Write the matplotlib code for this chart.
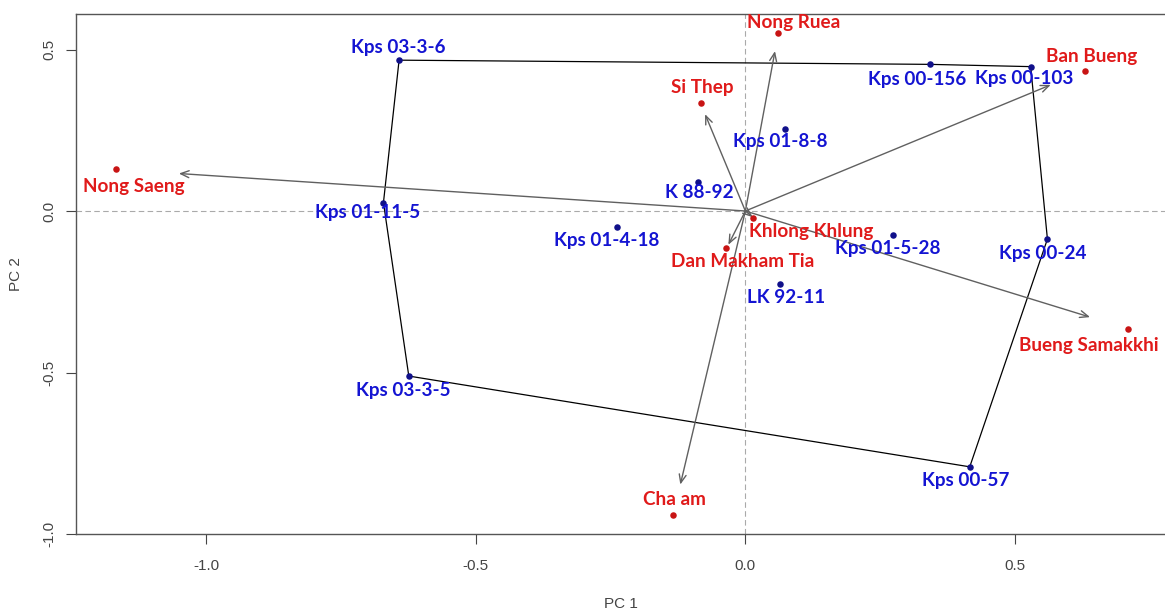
import numpy as np
import matplotlib.pyplot as plt

# genotype scores (PC1, PC2)
gen_names = ['Kps 03-3-6', 'Kps 00-156', 'Kps 00-103', 'Kps 01-8-8', 'K 88-92',
             'Kps 01-11-5', 'Kps 01-4-18', 'Kps 01-5-28', 'Kps 00-24', 'LK 92-11',
             'Kps 03-3-5', 'Kps 00-57']
gen_pc1 = [-0.642, 0.342, 0.529, 0.073, -0.088, -0.671, -0.238, 0.274, 0.560, 0.064, -0.624, 0.416]
gen_pc2 = [0.467, 0.454, 0.447, 0.254, 0.091, 0.026, -0.049, -0.074, -0.087, -0.227, -0.511, -0.792]

# environment scores (PC1, PC2)
env_names = ['Nong Saeng', 'Nong Ruea', 'Si Thep', 'Ban Bueng', 'Khlong Khlung',
             'Dan Makham Tia', 'Bueng Samakkhi', 'Cha am']
env_pc1 = [-1.167, 0.061, -0.083, 0.629, 0.015, -0.035, 0.710, -0.134]
env_pc2 = [0.129, 0.550, 0.333, 0.434, -0.021, -0.116, -0.365, -0.941]

# polygon vertices (order around the hull)
hull = ['Kps 03-3-6', 'Kps 00-156', 'Kps 00-103', 'Kps 00-24', 'Kps 00-57',
        'Kps 03-3-5', 'Kps 01-11-5']

arrow_scale = 0.9

# label offsets in pixels (dx, dy)
gen_off = [(-1, 13), (-13, -15), (-7, -12), (-4, -13), (1, -11), (-16, -10),
           (-10, -14), (-5, -14), (-5, -14), (6, -13), (-5, -14), (-4, -14)]
env_off = [(18, -17), (15, 11), (2, 16), (7, 14), (58, -14), (16, -13), (-40, -17), (1, 15)]

blue_txt = '#1414d2'
red_txt = '#e01a1a'
dpi = 100

fig = plt.figure(figsize=(11.65, 6.16), dpi=dpi)
ax = fig.add_axes([76 / 1165, 82 / 616, 1 - 76 / 1165, (616 - 14.3 - 82) / 616])
ax.set_xlim(-1.241, 0.778)
ax.set_ylim(-1.0, 0.609)

ax.axhline(0, color='#aaaaaa', lw=0.8, ls=(0, (5, 3)), zorder=1)
ax.axvline(0, color='#aaaaaa', lw=0.8, ls=(0, (5, 3)), zorder=1)

# polygon
idx = [gen_names.index(n) for n in hull] + [gen_names.index(hull[0])]
ax.plot([gen_pc1[i] for i in idx], [gen_pc2[i] for i in idx], color='black', lw=0.9, zorder=2)

# environment vectors
for x, y in zip(env_pc1, env_pc2):
    ax.annotate('', xy=(x * arrow_scale, y * arrow_scale), xytext=(0, 0),
                arrowprops=dict(arrowstyle='->,head_length=0.6,head_width=0.25',
                                color='#606060', lw=1.0, shrinkA=0, shrinkB=0),
                zorder=3)

ax.scatter(gen_pc1, gen_pc2, s=22, color='#10108a', zorder=4, linewidths=0)
ax.scatter(env_pc1, env_pc2, s=22, color='#c81414', zorder=4, linewidths=0)

pt = 72 / dpi
for name, x, y, (dx, dy) in zip(gen_names, gen_pc1, gen_pc2, gen_off):
    ax.annotate(name, (x, y), xytext=(dx * pt, dy * pt), textcoords='offset points',
                ha='center', va='center', color=blue_txt, fontsize=13.6,
                family='Lato', fontweight='bold', zorder=5)
for name, x, y, (dx, dy) in zip(env_names, env_pc1, env_pc2, env_off):
    ax.annotate(name, (x, y), xytext=(dx * pt, dy * pt), textcoords='offset points',
                ha='center', va='center', color=red_txt, fontsize=13.6,
                family='Lato', fontweight='bold', zorder=5, annotation_clip=False)

ax.set_xticks([-1.0, -0.5, 0.0, 0.5])
ax.set_yticks([-1.0, -0.5, 0.0, 0.5])
ax.set_xticklabels(['-1.0', '-0.5', '0.0', '0.5'])
ax.set_yticklabels(['-1.0', '-0.5', '0.0', '0.5'], rotation=90, va='center')
ax.tick_params(direction='out', length=7, width=0.8, colors='#444444',
               labelsize=11)
ax.tick_params(axis='x', pad=11)
ax.tick_params(axis='y', pad=7)
for lab in ax.get_xticklabels() + ax.get_yticklabels():
    lab.set_family('Liberation Sans')

for side in ['left', 'bottom', 'top']:
    ax.spines[side].set_color('#555555')
    ax.spines[side].set_linewidth(1.0)
ax.spines['right'].set_visible(False)

ax.set_xlabel('PC 1', fontsize=11, color='#444444', family='Liberation Sans', labelpad=17)
ax.set_ylabel('PC 2', fontsize=11, color='#444444', family='Liberation Sans', labelpad=14)

fig.savefig('out.png', dpi=dpi)
